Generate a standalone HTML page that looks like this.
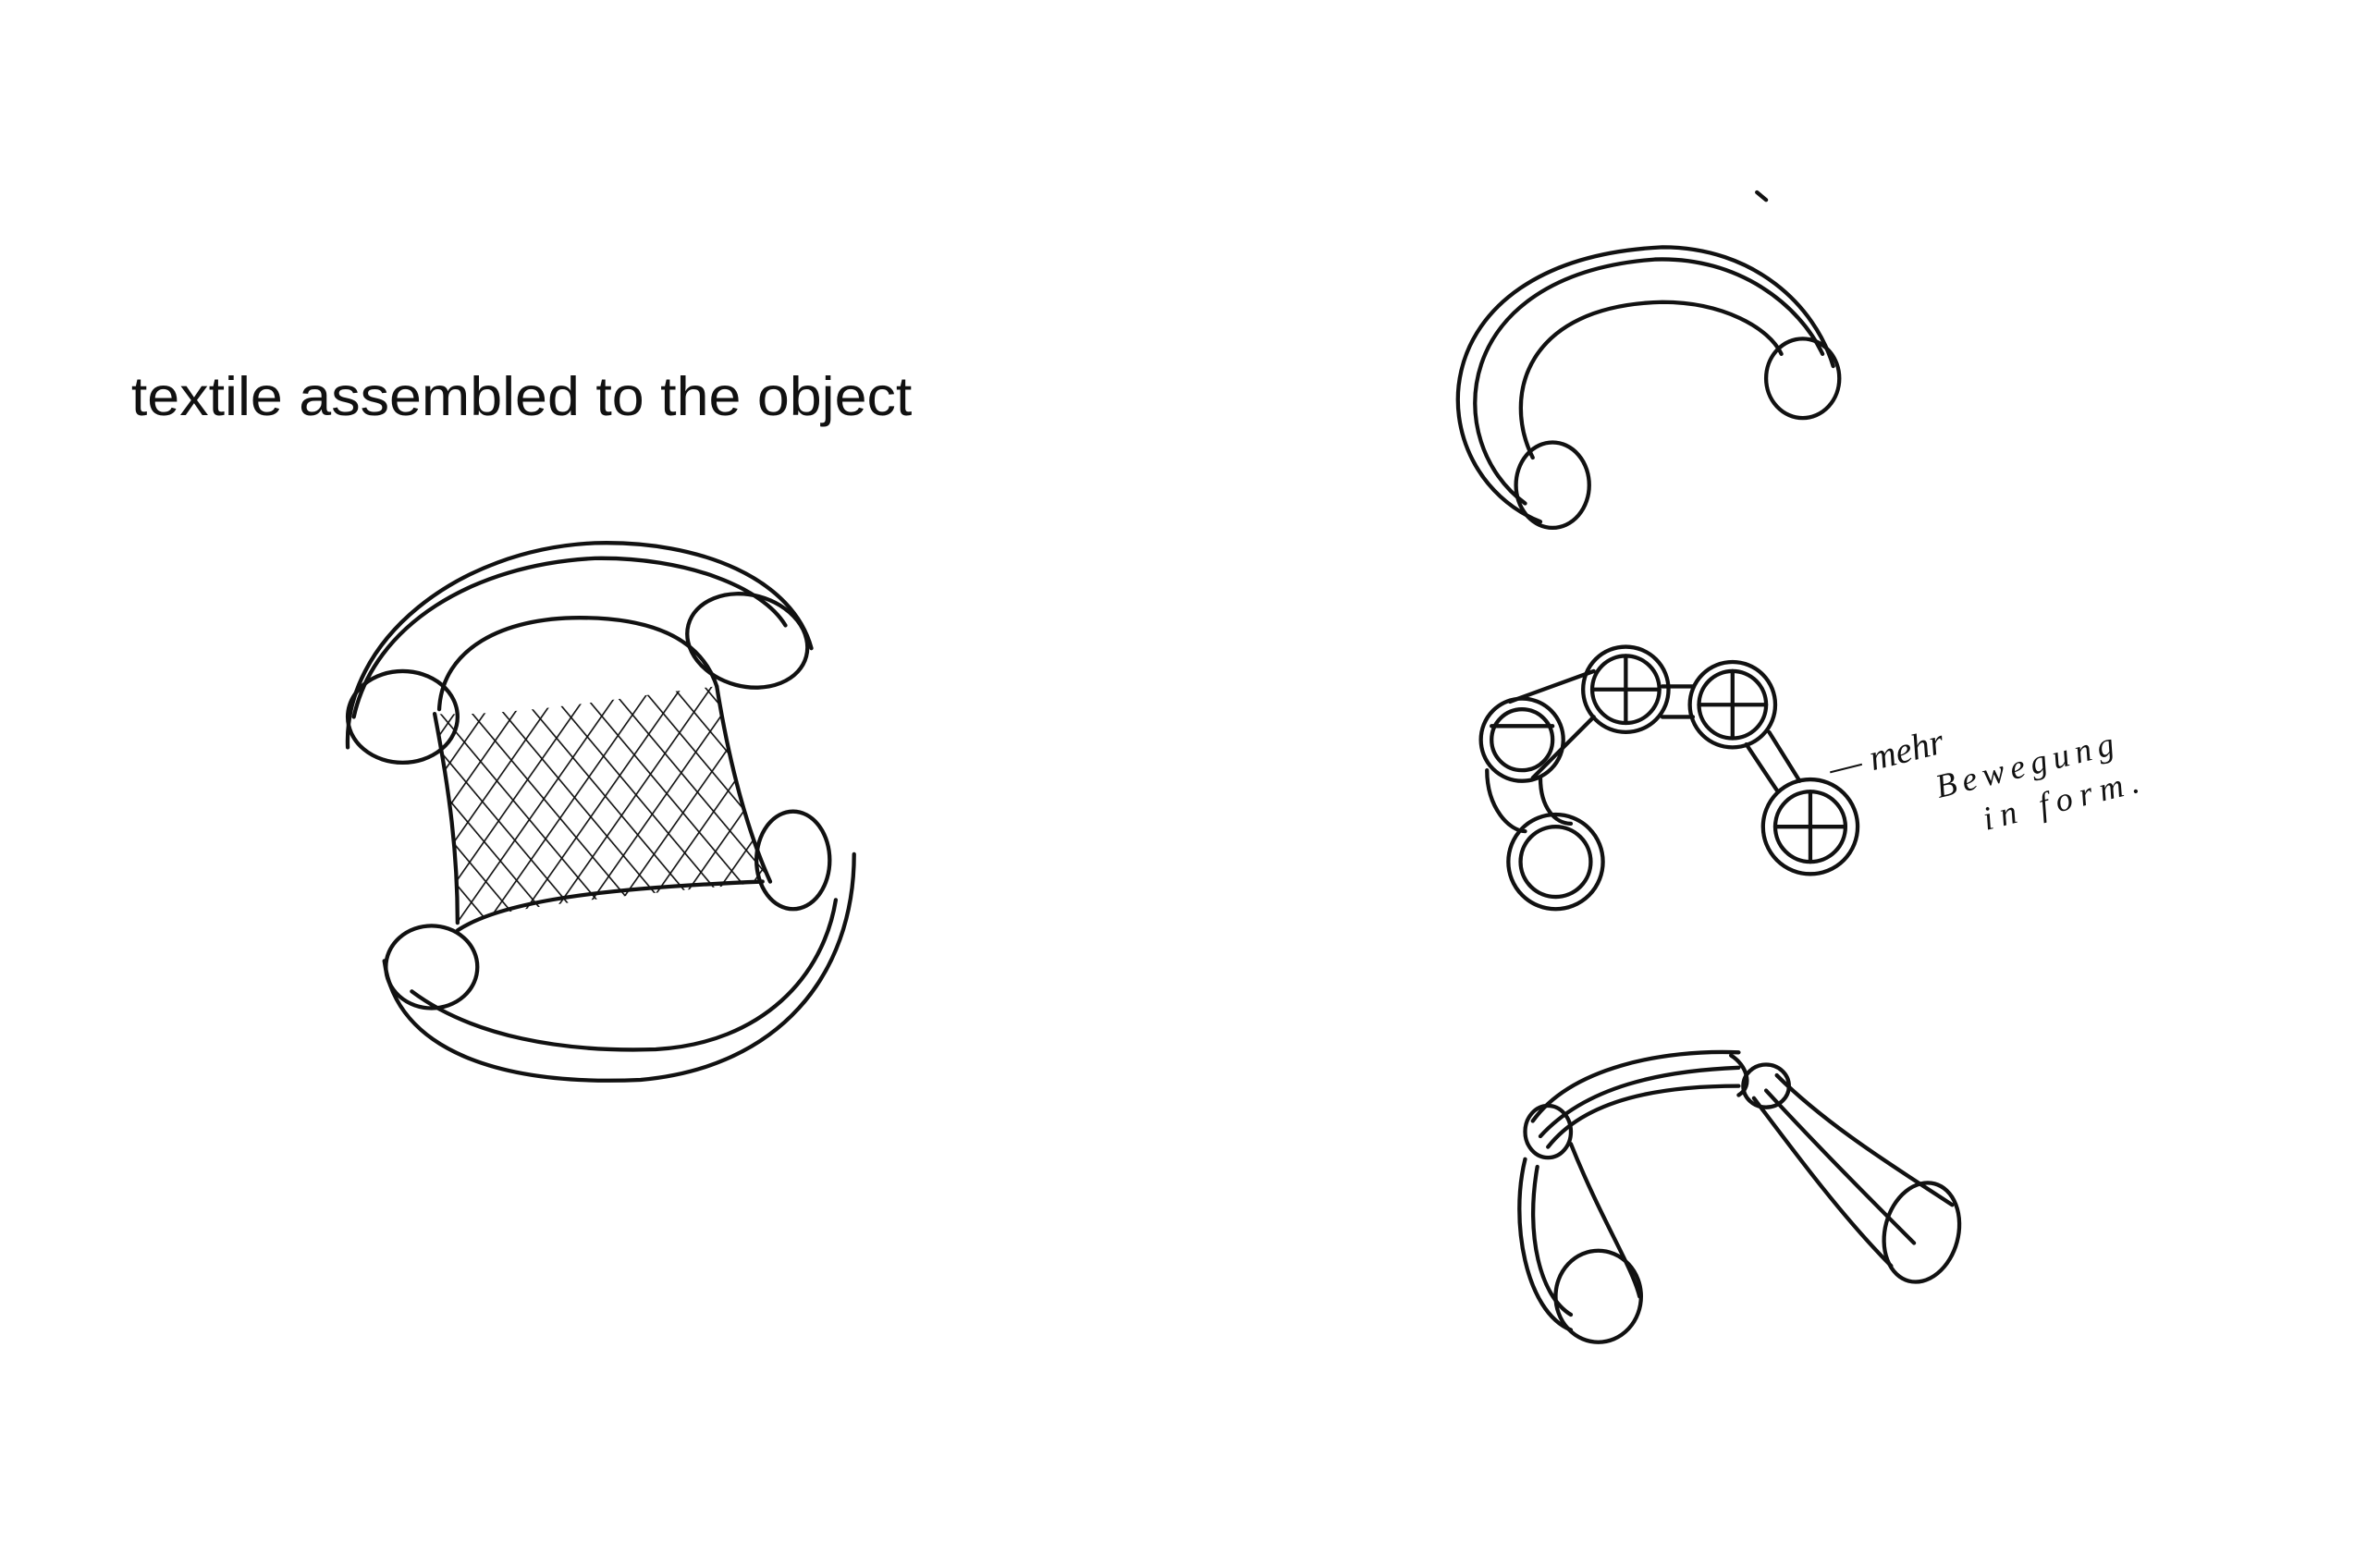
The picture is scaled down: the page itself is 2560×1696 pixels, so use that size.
<!DOCTYPE html>
<html><head><meta charset="utf-8"><style>
html,body{margin:0;padding:0;background:#fff;}
svg{display:block;}
</style></head><body>
<svg width="2560" height="1696" viewBox="0 0 1552 1028" xmlns="http://www.w3.org/2000/svg">
<rect width="1552" height="1028" fill="#fff"/>
<text x="86" y="272" font-family="Liberation Sans, sans-serif" font-size="36" textLength="512" lengthAdjust="spacingAndGlyphs" fill="#111">textile assembled to the object</text>

<defs>
<pattern id="hatch1" width="16" height="16" patternUnits="userSpaceOnUse" patternTransform="rotate(35)"><line x1="0" y1="0" x2="0" y2="16" stroke="#111" stroke-width="2"/></pattern>
<pattern id="hatch2" width="16" height="16" patternUnits="userSpaceOnUse" patternTransform="rotate(-40)"><line x1="0" y1="0" x2="0" y2="16" stroke="#111" stroke-width="2"/></pattern>
</defs>

<g fill="none" stroke="#111" stroke-width="2.6" stroke-linecap="round" stroke-linejoin="round">
<path d="M285,468 C340,470 420,455 470,450 C480,500 490,540 505,578 C440,585 360,590 300,605 C300,560 295,510 285,468 Z" fill="url(#hatch1)" stroke="none"/>
<path d="M285,468 C340,470 420,455 470,450 C480,500 490,540 505,578 C440,585 360,590 300,605 C300,560 295,510 285,468 Z" fill="url(#hatch2)" stroke="none"/>
<path d="M285,468 C295,520 300,560 300,605"/>
<path d="M470,450 C478,500 490,545 505,578"/>
<path d="M228,490 C225,420 300,360 390,356 C460,354 520,380 532,425"/>
<path d="M232,470 C245,410 310,370 390,366 C450,365 500,385 515,410"/>
<path d="M288,465 C290,425 330,405 380,405 C430,405 460,420 470,450"/>
<ellipse cx="264" cy="470" rx="36" ry="30"/>
<ellipse cx="490" cy="420" rx="40" ry="30" transform="rotate(15 490 420)"/>
<path d="M252,630 C260,690 330,712 420,708 C510,700 560,640 560,560"/>
<path d="M270,650 C310,680 370,690 430,688 C500,684 540,640 548,590"/>
<path d="M300,610 C330,590 400,582 500,578"/>
<ellipse cx="283" cy="634" rx="30" ry="27"/>
<ellipse cx="520" cy="564" rx="24" ry="32"/>

<path d="M1010,342 C930,310 925,170 1090,162 C1150,162 1190,200 1202,240"/>
<path d="M1000,330 C945,290 950,180 1085,170 C1140,168 1180,200 1195,232"/>
<path d="M1005,300 C985,260 1000,200 1090,198 C1130,198 1160,215 1168,232"/>
<ellipse cx="1018" cy="318" rx="24" ry="28"/>
<ellipse cx="1182" cy="248" rx="24" ry="26"/>

<path d="M990,460 L1045,440 M1005,510 L1045,470 M1090,450 L1110,450 M1090,470 L1110,470 M1160,480 L1180,512 M1145,488 L1165,518 M975,505 C975,530 990,545 1000,545 M1010,510 C1010,530 1020,540 1030,540"/>
<circle cx="998" cy="485" r="27"/><circle cx="998" cy="485" r="20"/>
<circle cx="1066" cy="452" r="28"/><circle cx="1066" cy="452" r="22"/>
<path d="M1044,452 L1088,452 M1066,430 L1066,474"/>
<circle cx="1136" cy="462" r="28"/><circle cx="1136" cy="462" r="22"/>
<path d="M1114,462 L1158,462 M1136,440 L1136,484"/>
<circle cx="1187" cy="542" r="31"/><circle cx="1187" cy="542" r="23"/>
<path d="M1164,542 L1210,542 M1187,519 L1187,565"/>
<circle cx="1020" cy="565" r="31"/><circle cx="1020" cy="565" r="23"/>
<path d="M978,476 L1018,476"/>

<path d="M1005,735 C1030,700 1090,688 1140,690"/>
<path d="M1010,745 C1040,712 1090,702 1140,700"/>
<path d="M1015,752 C1040,720 1090,712 1140,712"/>
<path d="M1135,692 C1145,698 1150,712 1140,718"/>
<ellipse cx="1015" cy="742" rx="15" ry="17"/>
<path d="M1000,760 C990,800 1000,860 1030,872 M1008,765 C1000,810 1010,850 1030,862 M1030,750 C1050,800 1070,830 1075,850"/>
<ellipse cx="1048" cy="850" rx="28" ry="30"/>
<path d="M1150,720 C1180,760 1210,800 1240,830 M1165,705 C1200,740 1250,770 1280,790 M1158,715 C1195,755 1230,790 1255,815"/>
<ellipse cx="1158" cy="712" rx="15" ry="14"/>
<ellipse cx="1260" cy="808" rx="24" ry="33" transform="rotate(15 1260 808)"/>

<path d="M1152,126 L1158,131"/>
</g>

<g transform="rotate(-14 1330 490)" font-family="Liberation Serif, serif" font-style="italic" fill="#111">
<text x="1200" y="480" font-size="24">— mehr</text>
<text x="1265" y="508" font-size="22" letter-spacing="4">Bewegung</text>
<text x="1290" y="536" font-size="22" letter-spacing="5">in form.</text>
</g>
</svg>
</body></html>
